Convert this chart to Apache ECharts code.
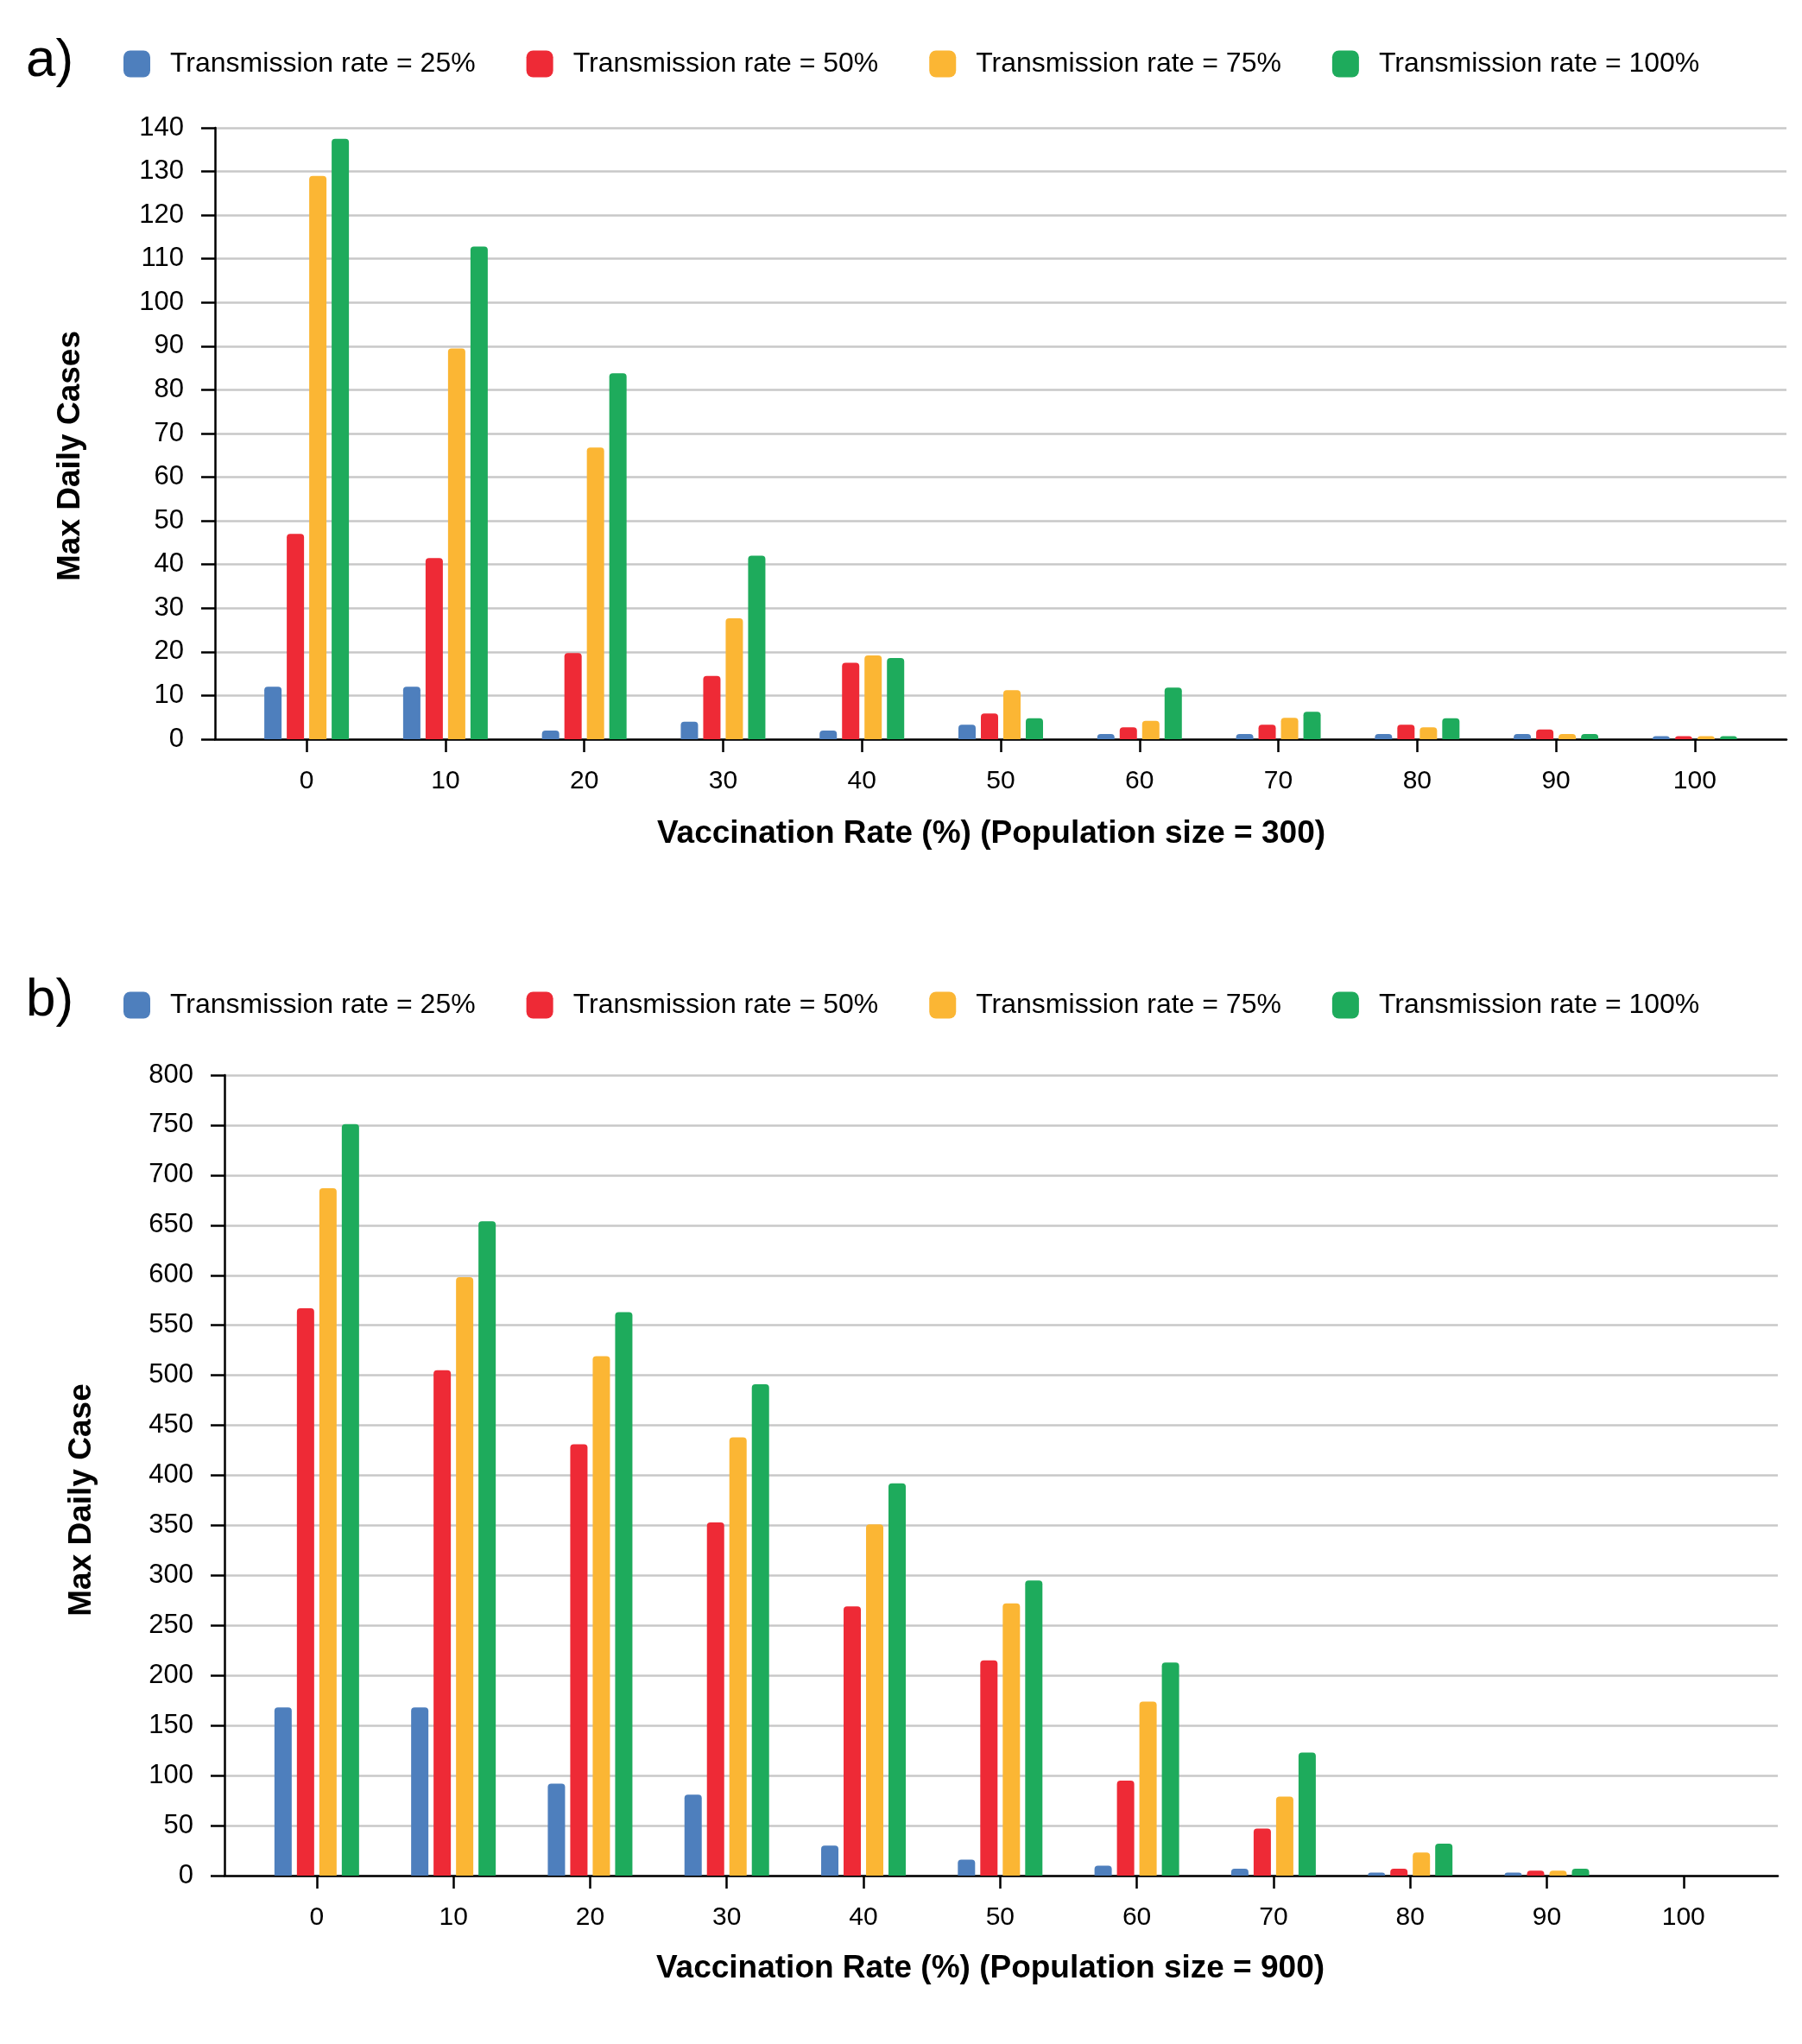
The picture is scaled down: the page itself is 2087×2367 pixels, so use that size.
<!DOCTYPE html>
<html>
<head>
<meta charset="utf-8">
<script src="https://cdn.jsdelivr.net/npm/echarts@6/dist/echarts.min.js"></script>
<style>
html,body{margin:0;padding:0;background:#fff;}
#chart{width:2087px;height:2367px;}
</style>
</head>
<body>
<div id="chart"></div>
<script>
// ---- Data ----
const categories = ['0','10','20','30','40','50','60','70','80','90','100'];
const seriesNames = ['Transmission rate = 25%','Transmission rate = 50%','Transmission rate = 75%','Transmission rate = 100%'];

// a) Population size = 300
const a_t25  = [12, 12, 2, 4, 2, 3.3, 1.2, 1.2, 1.2, 1.2, 0.7];
const a_t50  = [47, 41.5, 19.7, 14.5, 17.5, 5.9, 2.7, 3.3, 3.3, 2.2, 0.7];
const a_t75  = [129, 89.5, 66.8, 27.7, 19.2, 11.2, 4.2, 4.9, 2.7, 1.2, 0.7];
const a_t100 = [137.5, 112.8, 83.8, 42, 18.6, 4.8, 11.8, 6.3, 4.8, 1.2, 0.7];

// b) Population size = 900
const b_t25  = [168, 168, 92, 81, 30, 16, 10, 7, 3, 3, 0];
const b_t50  = [567, 505, 431, 353, 269, 215, 95, 47, 7, 5, 0];
const b_t75  = [687, 598, 519, 438, 351, 272, 174, 79, 23, 5, 0];
const b_t100 = [751, 654, 563, 491, 392, 295, 213, 123, 32, 7, 0];

const colors = ['#4e7fbd', '#ee2a36', '#fbb634', '#1eab5c'];
const FONT = "'Liberation Sans', Arial, Helvetica, sans-serif";

// ---- Build ----
const tickIdx = categories.map((c, i) => i);
function toPts(arr){ return arr.map((v, i) => [i, v]); }

function makeX(gridIndex, min, max){
  return {
    type: 'value', gridIndex, min, max,
    axisLine: { show: true, onZero: false, lineStyle: { color: '#000', width: 2.5 } },
    axisTick: { show: true, customValues: tickIdx, length: 15, lineStyle: { color: '#000', width: 2.5 } },
    axisLabel: { customValues: tickIdx, formatter: v => categories[Math.round(v)], color: '#000', fontSize: 30, fontFamily: FONT, margin: 34 },
    splitLine: { show: false }
  };
}
function makeY(gridIndex, max, interval){
  return {
    type: 'value', gridIndex, min: 0, max, interval,
    axisLine: { show: true, onZero: false, lineStyle: { color: '#000', width: 2.5 } },
    axisTick: { show: true, length: 16, lineStyle: { color: '#000', width: 2.5 } },
    axisLabel: { color: '#000', fontSize: 31, fontFamily: FONT, margin: 36 },
    splitLine: { show: true, lineStyle: { color: '#c8c8c8', width: 2.5 } }
  };
}
function makeBars(axisIndex, arrs){
  return arrs.map((arr, k) => ({
    name: seriesNames[k], type: 'bar',
    xAxisIndex: axisIndex, yAxisIndex: axisIndex,
    data: toPts(arr),
    barWidth: 20, barGap: '30%',
    itemStyle: { color: colors[k], borderRadius: [4, 4, 0, 0] },
    animation: false
  }));
}
function makeLegend(top){
  return {
    data: seriesNames, left: 143, top, orient: 'horizontal',
    itemWidth: 31, itemHeight: 31, itemGap: 59, padding: 0,
    icon: 'roundRect',
    textStyle: { fontSize: 32, fontFamily: FONT, color: '#000', padding: [0, 0, 0, 18] }
  };
}
function txt(x, y, text, size, weight, rot){
  return {
    type: 'text', x, y, rotation: rot || 0,
    style: { text, fontSize: size, fontWeight: weight, fontFamily: FONT, fill: '#000', align: 'center', verticalAlign: 'middle' }
  };
}

const option = {
  backgroundColor: '#fff',
  color: colors,
  animation: false,
  legend: [makeLegend(58), makeLegend(1148)],
  grid: [
    { left: 249, top: 148, width: 1820, height: 708 },
    { left: 260, top: 1245, width: 1799, height: 927 }
  ],
  xAxis: [makeX(0, -0.66, 10.66), makeX(1, -0.675, 10.69)],
  yAxis: [makeY(0, 140, 10), makeY(1, 800, 50)],
  series: [
    ...makeBars(0, [a_t25, a_t50, a_t75, a_t100]),
    ...makeBars(1, [b_t25, b_t50, b_t75, b_t100])
  ],
  graphic: [
    { type: 'text', left: 30, top: 40, style: { text: 'a)', fontSize: 62, fontFamily: FONT, fill: '#000' } },
    { type: 'text', left: 30, top: 1128, style: { text: 'b)', fontSize: 62, fontFamily: FONT, fill: '#000' } },
    txt(1148, 966, 'Vaccination Rate (%) (Population size = 300)', 37, 'bold'),
    txt(1147, 2280, 'Vaccination Rate (%) (Population size = 900)', 37, 'bold'),
    txt(82, 528, 'Max Daily Cases', 37, 'bold', Math.PI / 2),
    txt(95, 1737, 'Max Daily Case', 37, 'bold', Math.PI / 2)
  ]
};

const chart = echarts.init(document.getElementById('chart'), null, { renderer: 'canvas', width: 2087, height: 2367 });
chart.setOption(option);
</script>
</body>
</html>
